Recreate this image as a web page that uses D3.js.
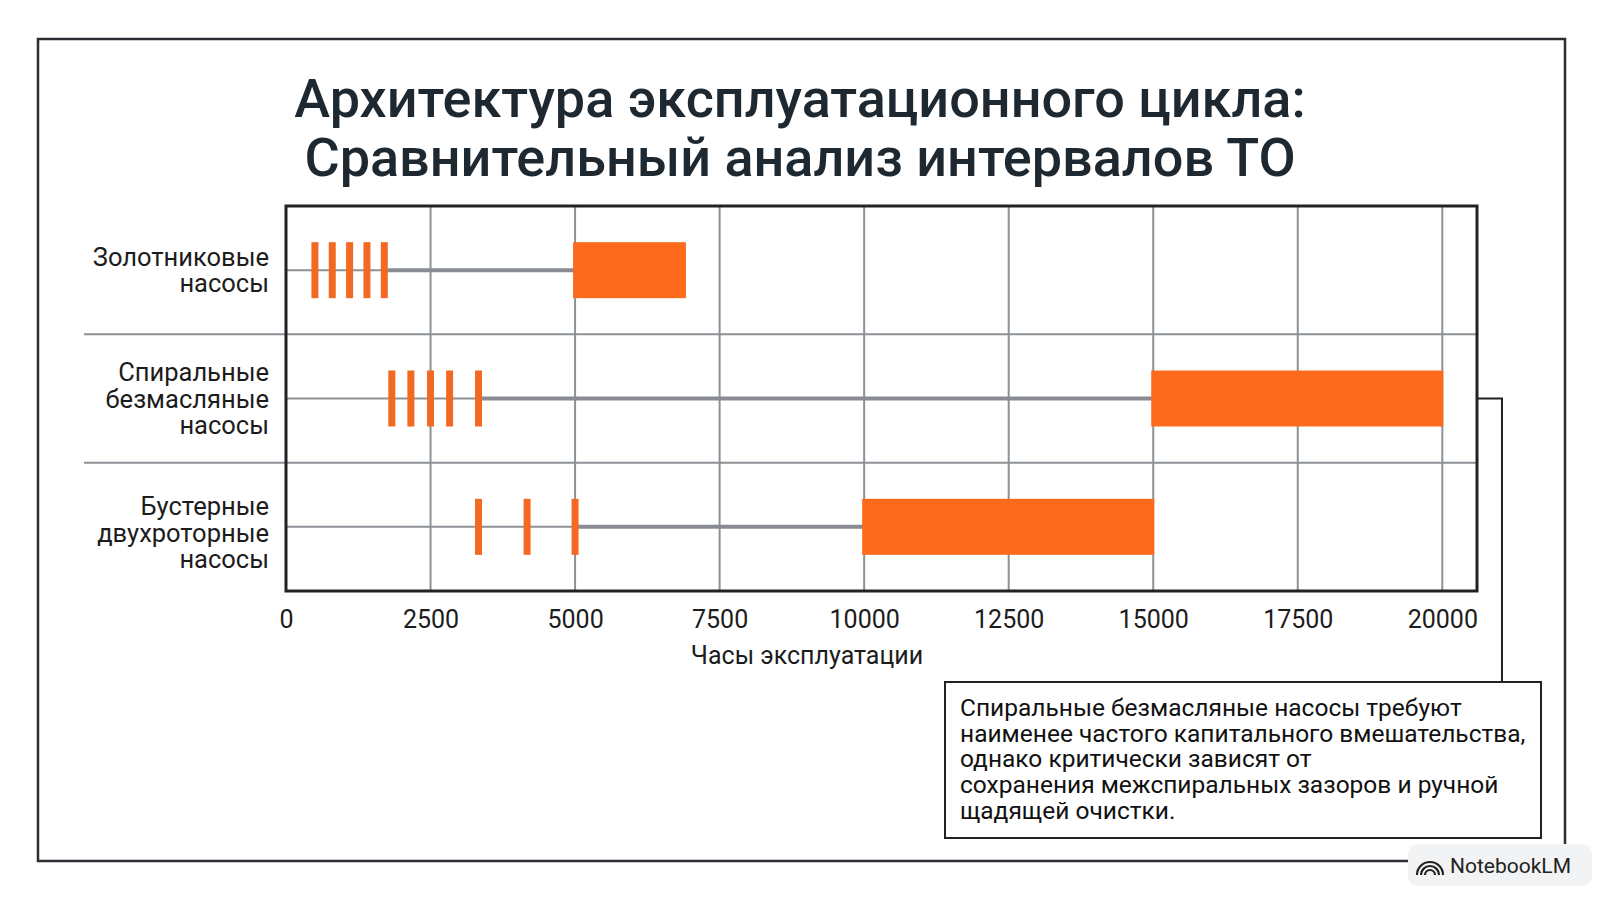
<!DOCTYPE html>
<html>
<head>
<meta charset="utf-8">
<script src="https://cdn.jsdelivr.net/npm/d3@7"></script>
<style>
  html, body { margin: 0; padding: 0; background: #fff; }
  svg { display: block; font-family: Roboto, "Noto Sans", sans-serif; }
</style>
</head>
<body>
<div id="chart"></div>
<script>
// data
var categories = ["Золотниковые насосы", "Спиральные безмасляные насосы", "Бустерные двухроторные насосы"];
var labelLines = [["Золотниковые", "насосы"], ["Спиральные", "безмасляные", "насосы"], ["Бустерные", "двухроторные", "насосы"]];
// small service marks (hours)
var serviceMarks = [[500, 800, 1100, 1400, 1700], [1830, 2160, 2500, 2830, 3330], [3330, 4170, 5000]];
// major overhaul window (hours)
var overhaulStart = [5000, 15000, 10000];
var overhaulEnd = [6900, 20000, 15000];
var xTicks = [0, 2500, 5000, 7500, 10000, 12500, 15000, 17500, 20000];
var titleLines = ["Архитектура эксплуатационного цикла:", "Сравнительный анализ интервалов ТО"];
var xTitle = "Часы эксплуатации";
var noteLines = ["Спиральные безмасляные насосы требуют",
                 "наименее частого капитального вмешательства,",
                 "однако критически зависят от",
                 "сохранения межспиральных зазоров и ручной",
                 "щадящей очистки."];

var W = 1600, H = 900;
var plot = {left: 286, right: 1477, top: 206, bottom: 591};
var orange = "#fd6a1c", grid = "#8c9196", ink = "#1f2326";

var svg = d3.select("#chart").append("svg")
    .attr("width", W).attr("height", H);

// outer frame
svg.append("rect")
    .attr("x", 38).attr("y", 39).attr("width", 1527).attr("height", 822)
    .attr("fill", "none").attr("stroke", "#2b2f33").attr("stroke-width", 2.5);

// title
svg.append("g").selectAll("text")
    .data(titleLines).enter().append("text")
    .attr("x", 800).attr("y", function(d, i) { return 117 + i * 59; })
    .attr("text-anchor", "middle")
    .attr("font-size", 54).attr("font-weight", 500)
    .attr("fill", "#1e2830")
    .text(function(d) { return d; });

var x = d3.scaleLinear()
    .domain([0, 20600])
    .range([plot.left, plot.right]);

var y = d3.scaleBand()
    .domain(categories)
    .range([plot.top, plot.bottom]);

// vertical grid
svg.append("g").selectAll("line")
    .data(xTicks).enter().append("line")
    .attr("x1", function(d) { return x(d); }).attr("x2", function(d) { return x(d); })
    .attr("y1", plot.top).attr("y2", plot.bottom)
    .attr("stroke", grid).attr("stroke-width", 2);

// row separators (extend to the labels)
svg.append("g").selectAll("line")
    .data(categories.slice(1)).enter().append("line")
    .attr("x1", 84).attr("x2", plot.right)
    .attr("y1", function(d) { return y(d); }).attr("y2", function(d) { return y(d); })
    .attr("stroke", grid).attr("stroke-width", 2);

var rows = svg.append("g").selectAll("g")
    .data(categories).enter().append("g")
    .attr("transform", function(d) { return "translate(0," + (y(d) + y.bandwidth() / 2) + ")"; });

// thin centre line up to the overhaul
rows.append("line")
    .attr("x1", x(0)).attr("x2", function(d, i) { return x(overhaulStart[i]); })
    .attr("stroke", grid).attr("stroke-width", 2);

// thicker line from last service to overhaul
rows.append("line")
    .attr("x1", function(d, i) { return x(d3.max(serviceMarks[i])); })
    .attr("x2", function(d, i) { return x(overhaulStart[i]); })
    .attr("stroke", "#888c90").attr("stroke-width", 4);

var markH = 56, markW = 7;
rows.each(function(d, i) {
  d3.select(this).selectAll("rect.mark")
      .data(serviceMarks[i]).enter().append("rect")
      .attr("class", "mark")
      .attr("x", function(v) { return x(v) - markW / 2; })
      .attr("y", -markH / 2)
      .attr("width", markW).attr("height", markH)
      .attr("fill", "#f26a21");
});

rows.append("rect")
    .attr("x", function(d, i) { return x(overhaulStart[i]) - 2; })
    .attr("y", -markH / 2)
    .attr("width", function(d, i) { return x(overhaulEnd[i]) - x(overhaulStart[i]) + 3; })
    .attr("height", markH)
    .attr("fill", orange);

// category labels
rows.each(function(d, i) {
  var n = labelLines[i].length;
  d3.select(this).append("text")
      .attr("text-anchor", "end")
      .attr("font-size", 25.5)
      .attr("fill", "#1c1c1c")
    .selectAll("tspan")
      .data(labelLines[i]).enter().append("tspan")
      .attr("x", 269)
      .attr("y", function(t, j) { return (j - (n - 1) / 2) * 26.5 + 9 + (i == 2 ? 6 : 0); })
      .text(function(t) { return t; });
});

// plot frame
svg.append("rect")
    .attr("x", plot.left).attr("y", plot.top)
    .attr("width", plot.right - plot.left).attr("height", plot.bottom - plot.top)
    .attr("fill", "none").attr("stroke", ink).attr("stroke-width", 3);

// x axis
var xAxis = svg.append("g")
    .attr("transform", "translate(0," + plot.bottom + ")")
    .call(d3.axisBottom(x).tickValues(xTicks).tickFormat(d3.format("d")).tickSize(0).tickPadding(19));
xAxis.select(".domain").remove();
xAxis.selectAll("text")
    .attr("font-family", "Roboto, sans-serif")
    .attr("font-size", 25).attr("fill", "#1c1c1c");

svg.append("text")
    .attr("x", 807).attr("y", 664)
    .attr("text-anchor", "middle")
    .attr("font-size", 25).attr("fill", "#1c1c1c")
    .text(xTitle);

// callout
var midRow = y(categories[1]) + y.bandwidth() / 2;
svg.append("path")
    .attr("d", "M" + plot.right + "," + midRow + "H1502V682")
    .attr("fill", "none").attr("stroke", ink).attr("stroke-width", 2);

svg.append("rect")
    .attr("x", 945).attr("y", 682).attr("width", 596).attr("height", 156)
    .attr("fill", "#fff").attr("stroke", ink).attr("stroke-width", 2);

svg.append("text")
    .attr("font-size", 24.5).attr("fill", "#111")
  .selectAll("tspan")
    .data(noteLines).enter().append("tspan")
    .attr("x", 960)
    .attr("y", function(d, i) { return 716 + i * 25.7; })
    .text(function(d) { return d; });

// badge
var badge = svg.append("g");
badge.append("rect")
    .attr("x", 1408).attr("y", 844).attr("width", 184).attr("height", 42).attr("rx", 10)
    .attr("fill", "#f2f3f4");
badge.append("path")
    .attr("d", "M1421,875 a9,9 0 0 1 18,0 M1425,875 a5,5 0 0 1 10,0 M1417,875 a13,13 0 0 1 26,0")
    .attr("fill", "none").attr("stroke", "#222").attr("stroke-width", 2.2);
badge.append("text")
    .attr("x", 1450).attr("y", 873)
    .attr("font-size", 21).attr("fill", "#222")
    .text("NotebookLM");
</script>
</body>
</html>
